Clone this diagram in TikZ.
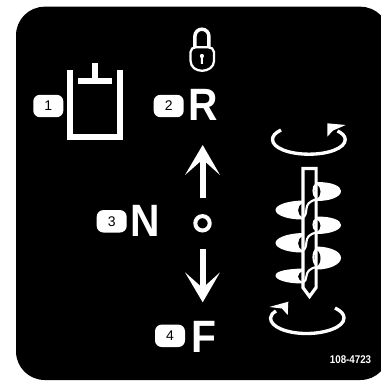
\documentclass[tikz,border=0pt]{standalone}
\usepackage{fontspec}
\setmainfont{Liberation Sans}
\tikzset{
  x=0.75pt,y=-0.75pt,
  badge/.style={fill=white,text=black,draw=none,rounded corners=5pt,minimum width=22.5pt,minimum height=16.8pt,inner sep=0pt,font=\fontsize{10.5}{11}\selectfont},
  letter/.style={text=white,inner sep=0pt,font=\bfseries\fontsize{34}{34}\selectfont,xscale=0.9,anchor=center},
  wall/.style={draw=white,line width=4.5pt},
  tip/.style={fill=white,draw=none},
  flight/.style={fill=white,draw=none},
  shaftline/.style={draw=white,line width=1.6pt},
  turn/.style={draw=white,line width=2.5pt},
  stem/.style={draw=white,line width=4.7pt},
}
\begin{document}
\begin{tikzpicture}
\useasboundingbox (0,0) rectangle (381,381);
\fill[white] (0,0) rectangle (381,381);
\fill[black,rounded corners=21.5pt] (16,6.7) rectangle (389,380);
% badges and letters
\node[badge] (b1) at (48.3,106) {1};
\node[badge] (b2) at (168.7,106) {2};
\node[badge] (b3) at (111.7,221.3) {3};
\node[badge] (b4) at (170,335.8) {4};
\node[letter] (R) at (202.8,105.3) {R};
\node[letter] (N) at (145.3,221) {N};
\node[letter] (F) at (203.7,337) {F};
% tank
\draw[wall] (70.3,70) -- (70.3,137.4) -- (120.3,137.4) -- (120.3,70);
\draw[wall] (78.3,81.5) -- (112.3,81.5);
\draw[wall] (94.9,63.3) -- (94.9,81.5);
% padlock
\draw[white,line width=1.7pt] (190.6,52) .. controls (190.6,49) and (193,47.2) .. (196,47.2) -- (208,47.2) .. controls (211,47.2) and (214,49) .. (214,52) -- (214,61) .. controls (214,67) and (208,70.8) .. (202.2,70.8) .. controls (196,70.8) and (190.6,67) .. (190.6,61) -- cycle;
\draw[white,line width=2.6pt] (194.9,47) -- (194.9,36.2) arc[start angle=180,end angle=0,x radius=7,y radius=-7] -- (208.9,47);
\fill[white] (201.9,56) circle[radius=2.1];
\fill[white] (201,56) -- (202.8,56) -- (203,64) -- (200.8,64) -- cycle;
% arrows
\coordinate (upend) at (202.7,198.3);
\coordinate (upstart) at (202.7,155);
\draw[stem] (upend) -- (upstart);
\fill[tip] (202.7,145) -- (220,175) -- (202.7,159.5) -- (185,175) -- cycle;
\node[circle,draw=white,line width=3pt,minimum size=10.8pt,inner sep=0pt] (o) at (202.5,223.3) {};
\coordinate (downstart) at (202.7,249.3);
\coordinate (downend) at (202.7,292);
\draw[stem] (downstart) -- (downend);
\fill[tip] (202.7,302.3) -- (220,272.3) -- (202.7,288) -- (185,272.3) -- cycle;
% auger flights, right side
\fill[flight] (317,182) .. controls (332,182) and (341,186) .. (341,191) .. controls (341,197) and (330,201) .. (317,201) -- cycle;
\fill[flight] (317,216.5) .. controls (332,216.5) and (341,220) .. (341,225) .. controls (341,230) and (330,234) .. (317,234) -- cycle;
\fill[flight] (317,246.5) .. controls (332,247) and (341,252) .. (341,258) .. controls (341,264) and (330,269.5) .. (317,269.5) -- cycle;
% auger flights, left side
\fill[flight] (302,200.5) .. controls (287,201) and (275.5,205) .. (275.5,210) .. controls (275.5,215) and (287,219.5) .. (302,219.5) -- cycle;
\fill[flight] (302,233) .. controls (287,233.5) and (275.5,238) .. (275.5,243) .. controls (275.5,248) and (287,252.5) .. (302,252.5) -- cycle;
\fill[flight] (302,268.5) .. controls (287,269) and (275.5,271) .. (275.5,275.5) .. controls (275.5,280) and (287,283.5) .. (302,283.5) -- cycle;
% black crescents beside the shaft
\foreach \a/\c in {184/199.5, 219/232.5, 249.5/267}{
  \fill[black] (316,\a) .. controls (322,\a+3) and (322,\c-3) .. (316,\c) -- cycle;
}
\foreach \a/\c in {203/217.5, 236/250.5, 271/282}{
  \fill[black] (303,\a) .. controls (296.5,\a+3) and (296.5,\c-3) .. (303,\c) -- cycle;
}
% shaft
\fill[black] (302,168) rectangle (317,288);
\foreach \a/\c in {199.5/217.5, 232.5/250.5, 267/283}{
  \draw[shaftline] (316.5,\a) .. controls (309,\a+1.5) and (307,\a+5) .. (306.5,\a+9) .. controls (306,\c-4) and (305.5,\c-1) .. (302.5,\c);
}
\foreach \a/\c in {184/199.5, 219/232.5, 249.5/267}{
  \draw[shaftline] (316.5,\a) .. controls (312.5,\a+2) and (312.5,\c-4) .. (316.5,\c-2);
}
\draw[white,line width=2.4pt] (302.9,168.5) -- (316.1,168.5) -- (316.1,287.5) -- (309.5,296.5) -- (302.9,287.5) -- cycle;
% rotation arrows
\draw[turn] (281,130) .. controls (275,133) and (272.5,136) .. (272.5,139.5) .. controls (272.5,148) and (289,154.2) .. (309,154.2) .. controls (329,154.2) and (345.2,148) .. (345.2,139.5) .. controls (345.2,136) and (342,133) .. (337.5,131);
\fill[tip] (345.7,125) -- (327.3,123.3) -- (327.3,136.7) -- (333,130.5) -- cycle;
\draw[turn] (335,308) .. controls (341,311) and (344,314) .. (344,318) .. controls (344,327) and (326,333.5) .. (306.5,333.5) .. controls (287,333.5) and (270.5,327) .. (270.5,318) .. controls (270.5,315) and (273,313) .. (276,311);
\fill[tip] (269.3,307) -- (288.3,301.7) -- (287.7,315) -- (282,308.5) -- cycle;
% part number
\node[text=white,inner sep=0pt,xscale=0.87,font=\bfseries\fontsize{8.4}{9}\selectfont] (pn) at (350.5,360) {108-4723};
\end{tikzpicture}
\end{document}
